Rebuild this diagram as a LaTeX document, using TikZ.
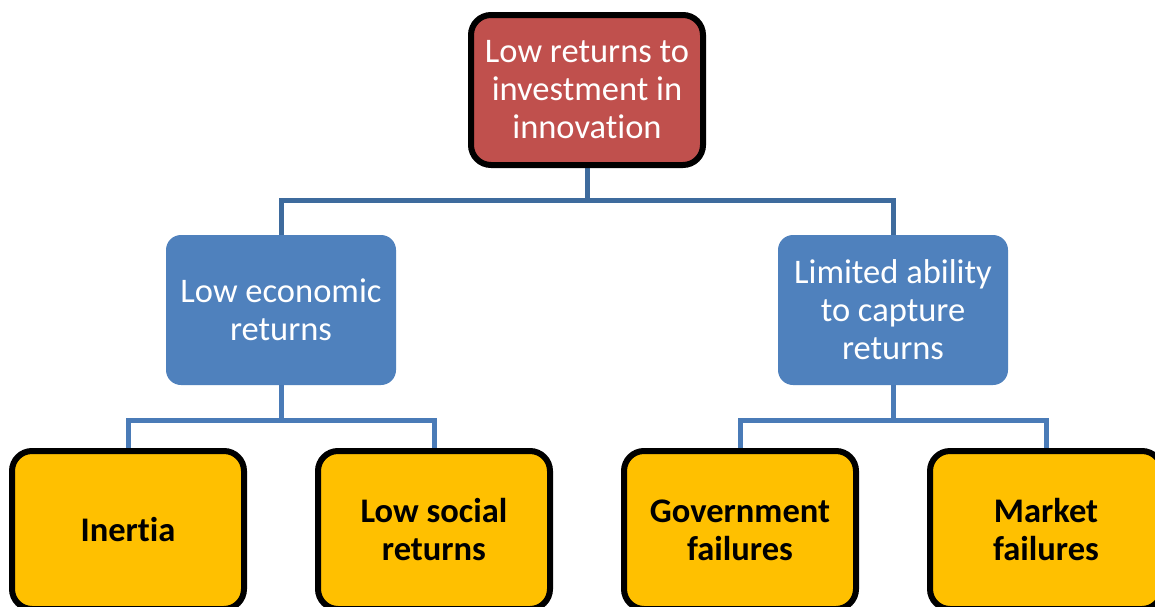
\documentclass[tikz,border=0pt]{standalone}
\usepackage{fontspec}
\setmainfont{Carlito}[RawFeature={-liga}]
\usetikzlibrary{backgrounds}
\definecolor{rootred}{HTML}{C0504D}
\definecolor{midblue}{HTML}{4F81BD}
\definecolor{leafgold}{HTML}{FFC000}
\definecolor{linkdark}{HTML}{3E6B9D}
\definecolor{linklight}{HTML}{4A7BB7}
\tikzset{
  boxfont/.style={font=\fontsize{34.5}{38}\selectfont},
  rootbox/.style={draw=black, line width=6pt, fill=rootred, rounded corners=20pt,
    minimum width=232pt, minimum height=150pt, inner sep=0pt,
    text=white, align=center, boxfont},
  midbox/.style={fill=midblue, rounded corners=15pt,
    minimum width=230pt, minimum height=150pt, inner sep=0pt,
    text=white, align=center, boxfont},
  leafbox/.style={draw=black, line width=6pt, fill=leafgold, rounded corners=20pt,
    minimum width=232pt, minimum height=158pt, inner sep=0pt,
    text=black, align=center, font=\fontsize{34.5}{38}\selectfont\bfseries},
  upperlink/.style={draw=linkdark, line width=5pt},
  lowerlink/.style={draw=linklight, line width=5pt},
}
\begin{document}
\begin{tikzpicture}[x=1pt,y=-1pt]
\useasboundingbox (0,0) rectangle (1155,606);
\clip (0,0) rectangle (1155,606);

% top level
\node[rootbox] (root) at (587,90) {Low returns to\\investment in\\innovation};

% second level
\node[midbox] (econ) at (281,310) {Low economic\\returns};
\node[midbox] (capt) at (893,310) {Limited ability\\to capture\\returns};

% third level
\node[leafbox] (inert) at (128,530) {Inertia};
\node[leafbox] (social) at (434,530) {Low social\\returns};
\node[leafbox] (gov) at (740,530) {Government\\failures};
\node[leafbox] (market) at (1046,530) {Market\\failures};

% connectors, drawn behind the boxes
\begin{scope}[on background layer]
  \fill[white] (0,0) rectangle (1155,606);

  \path (root.south) ++(0,32) coordinate (busroot);
  \draw[upperlink] (root.south) -- (busroot) -| (econ.north);
  \draw[upperlink] (busroot) -| (capt.north);

  \path (econ.south) ++(0,35) coordinate (busecon);
  \draw[lowerlink] (econ.south) -- (busecon) -| (inert.north);
  \draw[lowerlink] (busecon) -| (social.north);

  \path (capt.south) ++(0,35) coordinate (buscapt);
  \draw[lowerlink] (capt.south) -- (buscapt) -| (gov.north);
  \draw[lowerlink] (buscapt) -| (market.north);
\end{scope}
\end{tikzpicture}
\end{document}
